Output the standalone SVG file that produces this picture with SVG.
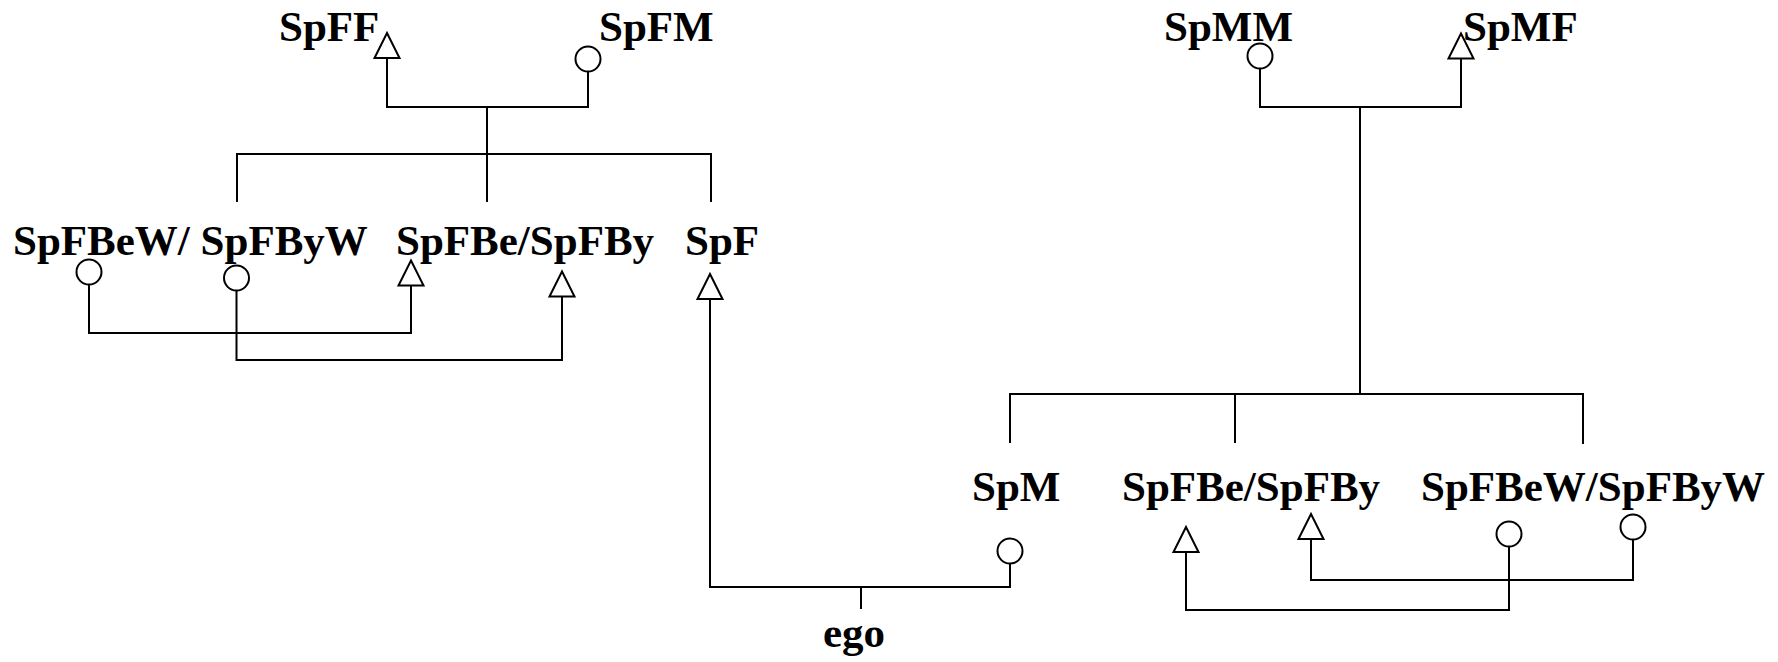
<svg xmlns="http://www.w3.org/2000/svg" xmlns:xlink="http://www.w3.org/1999/xlink" width="1778" height="662" viewBox="0 0 1778 662">
  <style>
    .lbl { font-family: "Liberation Serif", "Times New Roman", serif; font-weight: bold; font-size: 43px; fill: #000; }
    .sym { fill: #fff; stroke: #000; stroke-width: 2; }
    .wire { fill: none; stroke: #000; stroke-width: 2; stroke-linejoin: miter; }
  </style>
  <defs>
    <!-- male symbol: open triangle, apex at origin -->
    <path id="male" class="sym" d="M0,0 L12.5,25 L-12.5,25 Z"/>
    <!-- female symbol: open circle, centred at origin -->
    <circle id="female" class="sym" r="12.5"/>
  </defs>
  <rect width="1778" height="662" fill="#fff"/>

  <g id="connectors">
    <!-- spouse's father's parents and their children -->
    <path class="wire" d="M387,58 V107 H588 V71.5"/>
    <path class="wire" d="M487,107 V202"/>
    <path class="wire" d="M237,202 V154 H711 V202"/>
    <path class="wire" d="M89,284.5 V333 H411 V285.5"/>
    <path class="wire" d="M236.5,290.5 V360 H562 V296.5"/>
    <!-- ego's parents-in-law -->
    <path class="wire" d="M710,299 V587 H1010 V563.5"/>
    <path class="wire" d="M861,587 V609"/>
    <!-- spouse's mother's parents and their children -->
    <path class="wire" d="M1260,68.5 V107 H1461 V58.5"/>
    <path class="wire" d="M1360,107 V394"/>
    <path class="wire" d="M1010,443 V394 H1583 V444"/>
    <path class="wire" d="M1235,394 V443"/>
    <path class="wire" d="M1186,552 V610 H1509 V546.5"/>
    <path class="wire" d="M1311,539 V580 H1633 V539.5"/>
  </g>

  <g id="SpFF">
    <use xlink:href="#male" x="387" y="33"/>
    <text class="lbl" x="279" y="41">SpFF</text>
  </g>
  <g id="SpFM">
    <use xlink:href="#female" x="588" y="59"/>
    <text class="lbl" x="599" y="41">SpFM</text>
  </g>
  <g id="SpFBeW-SpFByW-left">
    <use xlink:href="#female" x="89" y="272"/>
    <use xlink:href="#female" x="236.5" y="278"/>
    <text class="lbl" x="13" y="255">SpFBeW/ SpFByW</text>
  </g>
  <g id="SpFBe-SpFBy-left">
    <use xlink:href="#male" x="411" y="260.5"/>
    <use xlink:href="#male" x="562" y="271.5"/>
    <text class="lbl" x="396" y="255">SpFBe/SpFBy</text>
  </g>
  <g id="SpF">
    <use xlink:href="#male" x="710" y="274"/>
    <text class="lbl" x="685" y="255">SpF</text>
  </g>
  <g id="SpMM">
    <use xlink:href="#female" x="1260" y="56"/>
    <text class="lbl" x="1164" y="41">SpMM</text>
  </g>
  <g id="SpMF">
    <use xlink:href="#male" x="1461" y="33.5"/>
    <text class="lbl" x="1463" y="41">SpMF</text>
  </g>
  <g id="SpM">
    <use xlink:href="#female" x="1010" y="551"/>
    <text class="lbl" x="972" y="500.5">SpM</text>
  </g>
  <g id="SpFBe-SpFBy-right">
    <use xlink:href="#male" x="1186" y="527"/>
    <use xlink:href="#male" x="1311" y="514"/>
    <text class="lbl" x="1122" y="500.5">SpFBe/SpFBy</text>
  </g>
  <g id="SpFBeW-SpFByW-right">
    <use xlink:href="#female" x="1509" y="534"/>
    <use xlink:href="#female" x="1633" y="527"/>
    <text class="lbl" x="1421" y="500.5">SpFBeW/SpFByW</text>
  </g>
  <g id="ego">
    <text class="lbl" x="823" y="646.5">ego</text>
  </g>
</svg>
